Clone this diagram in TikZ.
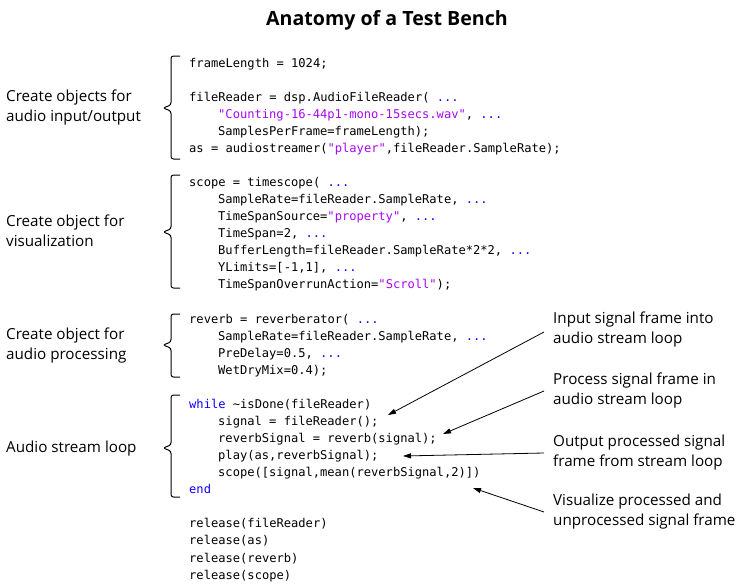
\documentclass[tikz,border=0pt]{standalone}
\usepackage{fontspec}
\setmainfont{Open Sans}
\newfontfamily\codefont{DejaVu Sans Mono}
\usetikzlibrary{arrows.meta}
\definecolor{kwblue}{HTML}{0E00FF}
\definecolor{strpurple}{HTML}{A709F5}
\definecolor{txtblack}{HTML}{000000}
\newcommand{\kw}[1]{\textcolor{kwblue}{#1}}
\newcommand{\st}[1]{\textcolor{strpurple}{#1}}
\newcommand{\dts}{\textcolor{kwblue}{...}}
\begin{document}
\begin{tikzpicture}[x=1pt,y=-1pt,
  code/.style={anchor=base west,inner sep=0pt,font=\codefont\fontsize{12.1}{14}\selectfont,text=txtblack},
  leftlab/.style={anchor=west,inner sep=0pt,align=left,font=\fontsize{15.2}{20}\selectfont,text=txtblack},
  rightlab/.style={anchor=west,inner xsep=9pt,inner ysep=0pt,align=left,font=\fontsize{15.2}{20}\selectfont,text=txtblack},
  bracket/.style={draw=black,line width=1pt,rounded corners=2.5pt},
  pointer/.style={draw=black,line width=0.8pt,-{Triangle[length=8pt,width=5pt]}},
  title/.style={inner sep=0pt,font=\bfseries\fontsize{19.6}{24}\selectfont}
]
\useasboundingbox (0,0) rectangle (748,587);
\fill[white] (0,0) rectangle (748,587);

% title
\node[title] (ttl) at (387,20) {Anatomy of a Test Bench};

% code lines
\def\lx{189}
\def\ix{218}
\def\by{67}
\def\ls{17.07}
\node[code] (c0)  at (\lx,{\by+0*\ls})  {frameLength = 1024;};
\node[code] (c2)  at (\lx,{\by+2*\ls})  {fileReader = dsp.AudioFileReader( \dts};
\node[code] (c3)  at (\ix,{\by+3*\ls})  {\st{"Counting-16-44p1-mono-15secs.wav"}, \dts};
\node[code] (c4)  at (\ix,{\by+4*\ls})  {SamplesPerFrame=frameLength);};
\node[code] (c5)  at (\lx,{\by+5*\ls})  {as = audiostreamer(\st{"player"},fileReader.SampleRate);};

\node[code] (c7)  at (\lx,{\by+7*\ls})  {scope = timescope( \dts};
\node[code] (c8)  at (\ix,{\by+8*\ls})  {SampleRate=fileReader.SampleRate, \dts};
\node[code] (c9)  at (\ix,{\by+9*\ls})  {TimeSpanSource=\st{"property"}, \dts};
\node[code] (c10) at (\ix,{\by+10*\ls}) {TimeSpan=2, \dts};
\node[code] (c11) at (\ix,{\by+11*\ls}) {BufferLength=fileReader.SampleRate*2*2, \dts};
\node[code] (c12) at (\ix,{\by+12*\ls}) {YLimits=[-1,1], \dts};
\node[code] (c13) at (\ix,{\by+13*\ls}) {TimeSpanOverrunAction=\st{"Scroll"});};

\node[code] (c15) at (\lx,{\by+15*\ls}) {reverb = reverberator( \dts};
\node[code] (c16) at (\ix,{\by+16*\ls}) {SampleRate=fileReader.SampleRate, \dts};
\node[code] (c17) at (\ix,{\by+17*\ls}) {PreDelay=0.5, \dts};
\node[code] (c18) at (\ix,{\by+18*\ls}) {WetDryMix=0.4);};

\node[code] (c20) at (\lx,{\by+20*\ls}) {\kw{while} \textasciitilde isDone(fileReader)};
\node[code] (c21) at (\ix,{\by+21*\ls}) {signal = fileReader();};
\node[code] (c22) at (\ix,{\by+22*\ls}) {reverbSignal = reverb(signal);};
\node[code] (c23) at (\ix,{\by+23*\ls}) {play(as,reverbSignal);};
\node[code] (c24) at (\ix,{\by+24*\ls}) {scope([signal,mean(reverbSignal,2)])};
\node[code] (c25) at (\lx,{\by+25*\ls}) {\kw{end}};

\node[code] (c27) at (\lx,{\by+27*\ls}) {release(fileReader)};
\node[code] (c28) at (\lx,{\by+28*\ls}) {release(as)};
\node[code] (c29) at (\lx,{\by+29*\ls}) {release(reverb)};
\node[code] (c30) at (\lx,{\by+30*\ls}) {release(scope)};

% brackets
\draw[bracket] (180,56) -- (171,56) -- (171,105) -- (163,108) -- (171,111) -- (171,159) -- (180,159);
\draw[bracket] (180,175) -- (171,175) -- (171,229) -- (163,232) -- (171,235) -- (171,288) -- (180,288);
\draw[bracket] (180,314) -- (171,314) -- (171,342) -- (163,345) -- (171,348) -- (171,377) -- (180,377);
\draw[bracket] (180,395) -- (171,395) -- (171,445) -- (163,448) -- (171,451) -- (171,497) -- (180,497);

% left labels
\node[leftlab] (l1) at (6,108) {Create objects for\\audio input/output};
\node[leftlab] (l2) at (6,231) {Create object for\\visualization};
\node[leftlab] (l3) at (6,346) {Create object for\\audio processing};
\node[leftlab] (l4) at (6,449) {Audio stream loop};

% right labels
\node[rightlab] (r1) at (544,330) {Input signal frame into\\audio stream loop};
\node[rightlab] (r2) at (544,391) {Process signal frame in\\audio stream loop};
\node[rightlab] (r3) at (544,453) {Output processed signal\\frame from stream loop};
\node[rightlab] (r4) at (544,512) {Visualize processed and\\unprocessed signal frame};

% arrow targets
\coordinate (t1) at (388,415);
\coordinate (t2) at (443,434);
\coordinate (t3) at (403,456);
\coordinate (t4) at (473,488);

\draw[pointer] ([yshift=-2pt]r1.west) -- (t1);
\draw[pointer] (r2.west) -- (t2);
\draw[pointer] (r3.west) -- (t3);
\draw[pointer] (r4.west) -- (t4);
\end{tikzpicture}
\end{document}
